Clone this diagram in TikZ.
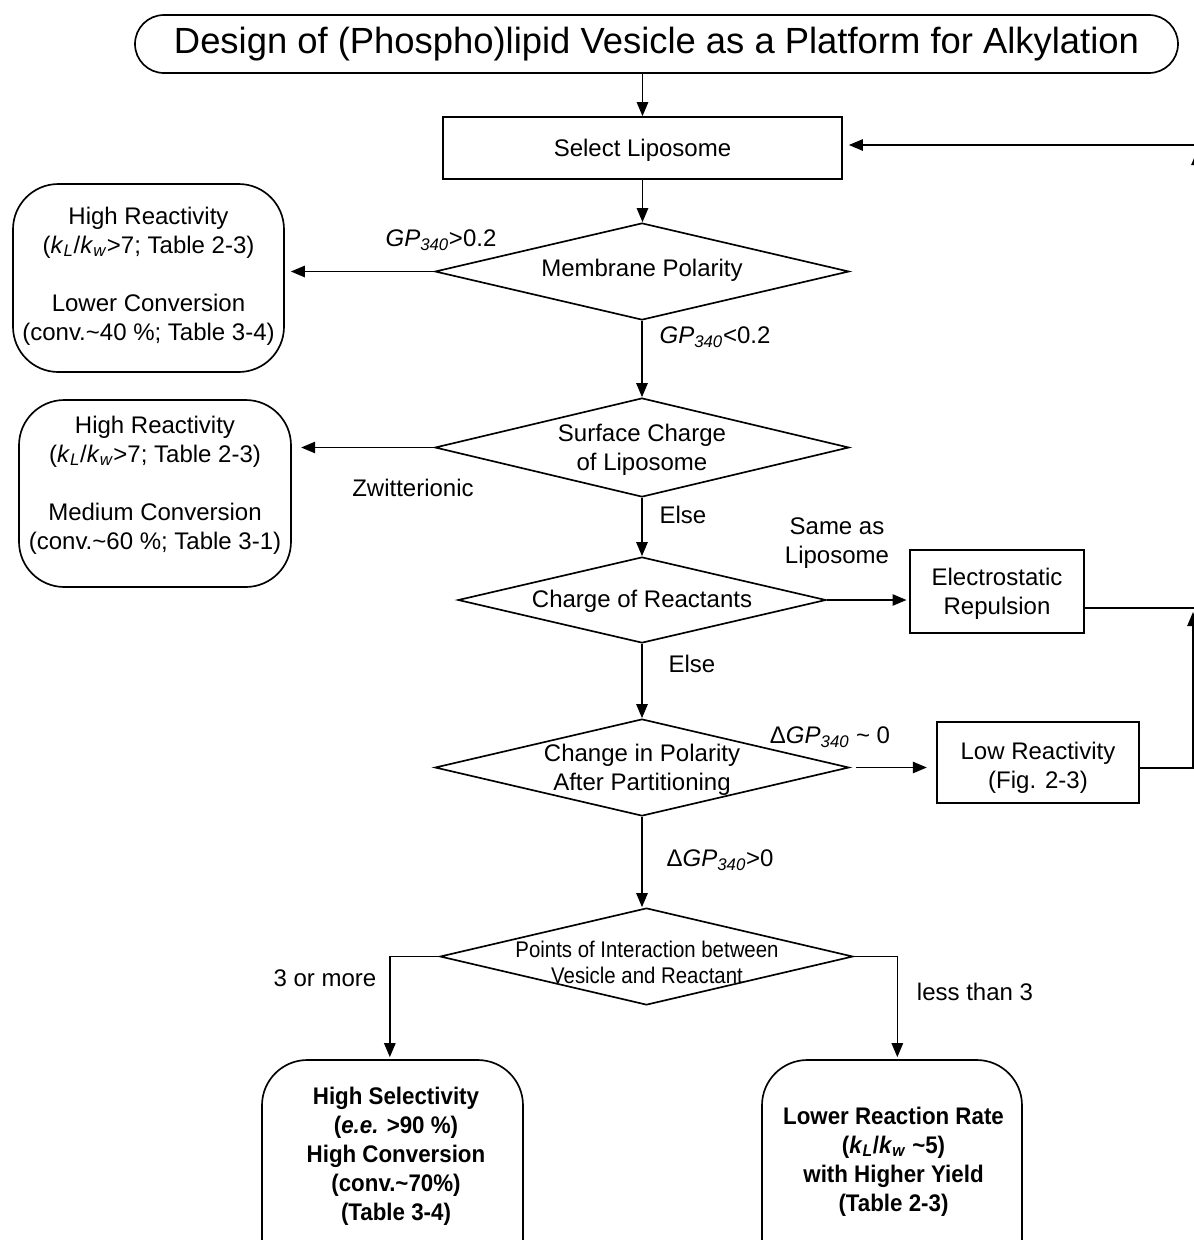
\documentclass[tikz,border=0pt]{standalone}
\usepackage{fontspec}
\setmainfont{Liberation Sans}
\newfontfamily\condfont[FakeStretch=0.9]{Liberation Sans}
\newfontfamily\bcondfont[FakeStretch=0.93]{Liberation Sans}
\usetikzlibrary{arrows.meta,shapes.geometric}
\tikzset{
  base/.style={font=\fontsize{18}{21.75}\selectfont, align=center, inner sep=0pt, yshift=-1.5pt},
  box/.style={draw, line width=1.25pt, inner sep=0pt},
  rbox/.style={box, rounded corners=34pt},
  dia/.style={draw, diamond, line width=1.25pt, inner sep=0pt},
  bsmall/.style={align=center, inner sep=0pt, yshift=-1.5pt, font=\bcondfont\bfseries\fontsize{18}{21.75}\selectfont},
  arr/.style={line width=1.25pt, -{Triangle[length=10.5pt,width=8.5pt]}},
  ln/.style={line width=1.25pt},
}
\newcommand{\gpx}{\textit{GP}\textsubscript{\textit{340}}}
\newcommand{\klkw}{\textit{k}\textsubscript{\textit{L}}/\textit{k}\textsubscript{\textit{w}}}
\begin{document}
\begin{tikzpicture}[x=0.75pt,y=-0.75pt]
\useasboundingbox (0,0) rectangle (1194,1240);
\clip (0,0) rectangle (1194,1240);

% title and first box
\node[box, rounded corners=21.75pt, minimum width=782.25pt, minimum height=43.5pt,
      font=\fontsize{27.3}{32}\selectfont] (title) at (656.5,44)
      {Design of (Phospho)lipid Vesicle as a Platform for Alkylation};
\node[box, minimum width=299.25pt, minimum height=46.5pt] (sl) at (642.5,148) {};
\node[base] (slt) at (642.5,148) {Select Liposome};

% diamonds
\node[dia, minimum width=310.5pt, minimum height=72.75pt] (mp) at (642,271.5) {};
\node[base] (mpt) at (642,268) {Membrane Polarity};
\node[dia, minimum width=310.5pt, minimum height=74.25pt] (sc) at (642,447.5) {};
\node[base] (sct) at (642,447.5) {Surface Charge\\of Liposome};
\node[dia, minimum width=276pt, minimum height=64.5pt] (cr) at (642,600) {};
\node[base] (crt) at (642,599) {Charge of Reactants};
\node[dia, minimum width=310.5pt, minimum height=72.75pt] (cp) at (642,767.5) {};
\node[base] (cpt) at (642,767.5) {Change in Polarity\\After Partitioning};
\node[dia, minimum width=309.75pt, minimum height=72.75pt] (pi) at (646.5,956.5) {};
\node[align=center, inner sep=0pt, yshift=-1.5pt, font=\condfont\fontsize{17}{19.5}\selectfont] (pit) at (647,960)
      {Points of Interaction between\\Vesicle and Reactant};

% left result boxes
\node[rbox, minimum width=203.25pt, minimum height=141pt] (b1) at (148.5,278) {};
\node[base] (b1t) at (148.5,274) {High Reactivity\\(\klkw>7; Table 2-3)\\[21.75pt]Lower Conversion\\(conv.\textasciitilde40 \%; Table 3-4)};
\node[rbox, minimum width=204pt, minimum height=140.25pt] (b2) at (155,493.5) {};
\node[base] (b2t) at (155,483) {High Reactivity\\(\klkw>7; Table 2-3)\\[21.75pt]Medium Conversion\\(conv.\textasciitilde60 \%; Table 3-1)};

% right boxes
\node[box, minimum width=130.5pt, minimum height=62.25pt] (er) at (997,591.5) {};
\node[base] (ert) at (997,591.5) {Electrostatic\\Repulsion};
\node[box, minimum width=151.5pt, minimum height=60.75pt] (lr) at (1038,762.5) {};
\node[base] (lrt) at (1038,765.5) {Low Reactivity\\(Fig. 2-3)};

% bottom boxes
\node[rbox, minimum width=195.75pt, minimum height=180pt] (bl) at (392.5,1180) {};
\node[bsmall] (blt) at (396,1154) {High Selectivity\\(\textit{e.e.} >90 \%)\\High Conversion\\(conv.\textasciitilde70\%)\\(Table 3-4)};
\node[rbox, minimum width=195pt, minimum height=180pt] (br) at (892,1180) {};
\node[bsmall] (brt) at (893.5,1159.5) {Lower Reaction Rate\\(\klkw\ \textasciitilde5)\\with Higher Yield\\(Table 2-3)};

% labels
\node[base] (l1) at (441,238) {\gpx>0.2};
\node[base] (l2) at (715,335) {\gpx<0.2};
\node[base] (l3) at (413,486) {Zwitterionic};
\node[base] (l4) at (683,513) {Else};
\node[base] (l5) at (837,541.5) {Same as\\Liposome};
\node[base] (l6) at (692,662) {Else};
\node[base] (l7) at (830,735) {Δ\gpx\ \textasciitilde\ 0};
\node[base] (l8) at (720,858) {Δ\gpx>0};
\node[base] (l9) at (325,976) {3 or more};
\node[base] (l10) at (975,990) {less than 3};

% free ends at the right edge
\coordinate (fb1) at (1200,608);
\coordinate (fb2) at (1193,768);
\coordinate (fb3) at (1193,612);
\coordinate (fb4) at (1200,145);
\coordinate (fb5) at (1197,190);
\coordinate (fb6) at (1197,151);

% connectors
\draw[arr] (title.south -| sl.north) -- (sl.north);
\draw[arr] (sl.south) -- (sl.south |- mp.north);
\draw[arr, shorten >=4.5pt] (mp.west) -- (mp.west -| b1.east);
\draw[arr] (mp.south) -- (sc.north);
\draw[arr, shorten >=7pt] (sc.west) -- (sc.west -| b2.east);
\draw[arr] (sc.south) -- (cr.north);
\draw[arr, shorten >=2pt] (cr.east) -- (cr.east -| er.west);
\draw[arr] (cr.south) -- (cp.north);
\draw[arr, shorten <=4.5pt, shorten >=7pt] (cp.east) -- (cp.east -| lr.west);
\draw[arr] (cp.south) -- (cp.south |- pi.north);
\draw[arr, shorten >=1.5pt] (pi.west) -| ([xshift=-2pt]bl.north);
\draw[arr, shorten >=1.5pt] (pi.east) -| ([xshift=4pt]br.north);
\draw[ln] (er.east |- fb1) -- (fb1);
\draw[arr] (lr.east |- fb2) -- (fb2) -- (fb3);
\draw[arr, shorten >=4.5pt] (fb4) -- (fb4 -| sl.east);
\draw[arr] (fb5) -- (fb6);
\end{tikzpicture}
\end{document}
